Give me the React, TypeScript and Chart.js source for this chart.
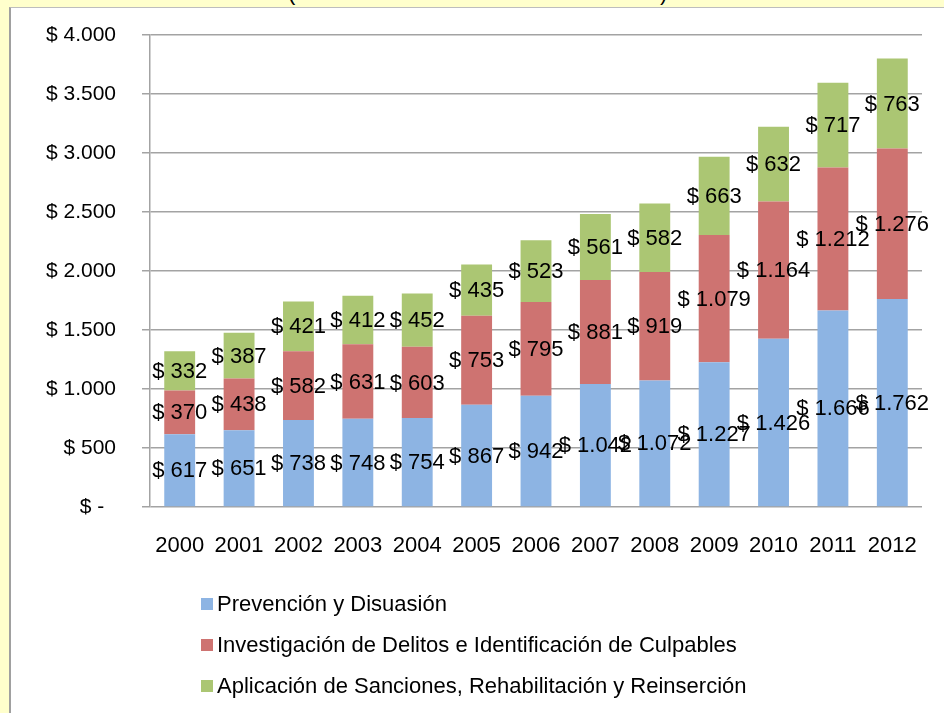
import React, { useEffect, useRef } from "react";
import { Chart, registerables } from "chart.js";

Chart.register(...registerables);

// ---- data ----
const YEARS = ["2000", "2001", "2002", "2003", "2004", "2005", "2006", "2007", "2008", "2009", "2010", "2011", "2012"];
const PREVENCION = [617, 651, 738, 748, 754, 867, 942, 1042, 1072, 1227, 1426, 1666, 1762];
const INVESTIGACION = [370, 438, 582, 631, 603, 753, 795, 881, 919, 1079, 1164, 1212, 1276];
const APLICACION = [332, 387, 421, 412, 452, 435, 523, 561, 582, 663, 632, 717, 763];
const SERIES_NAMES = [
  "Prevención y Disuasión",
  "Investigación de Delitos e Identificación de Culpables",
  "Aplicación de Sanciones, Rehabilitación y Reinserción",
];
const Y_MIN = 0;
const Y_MAX = 4000;
const Y_STEP = 500;

// ---- styles ----
const FONT = "'Liberation Sans', Arial, sans-serif";
const COLORS = ["#8DB4E3", "#CE7371", "#ABC673"];
const GRID = "#A3A3A3";

const fmt = (n: number) => String(n).replace(/\B(?=(\d{3})+(?!\d))/g, ".");

const valueLabels = {
  id: "valueLabels",
  afterDatasetsDraw(chart: any) {
    const ctx = chart.ctx;
    ctx.save();
    ctx.font = `22px ${FONT}`;
    ctx.fillStyle = "#000";
    ctx.textAlign = "center";
    ctx.textBaseline = "middle";
    chart.data.datasets.forEach((ds: any, di: number) => {
      const meta = chart.getDatasetMeta(di);
      meta.data.forEach((bar: any, i: number) => {
        const { x, y, base } = bar.getProps(["x", "y", "base"], true);
        ctx.fillText("$ " + fmt(ds.data[i]), x, (y + base) / 2 + 1);
      });
    });
    ctx.restore();
  },
};

const stackedLegend = {
  id: "stackedLegend",
  afterDraw(chart: any) {
    const ctx = chart.ctx;
    const area = chart.chartArea;
    const x0 = area.left + 51;
    const y0 = area.bottom + 97;
    const gap = 41;
    ctx.save();
    ctx.font = `22px ${FONT}`;
    ctx.textAlign = "left";
    ctx.textBaseline = "middle";
    chart.data.datasets.forEach((ds: any, i: number) => {
      const cy = y0 + i * gap;
      ctx.fillStyle = ds.backgroundColor;
      ctx.fillRect(x0, cy - 6, 12, 12);
      ctx.fillStyle = "#000";
      ctx.fillText(ds.label, x0 + 16, cy + 1);
    });
    ctx.restore();
  },
};

function BarChart() {
  const ref = useRef<HTMLCanvasElement | null>(null);
  useEffect(() => {
    if (!ref.current) return;
    const chart = new Chart(ref.current, {
      type: "bar",
      data: {
        labels: YEARS,
        datasets: [PREVENCION, INVESTIGACION, APLICACION].map((d, i) => ({
          label: SERIES_NAMES[i],
          data: d,
          backgroundColor: COLORS[i],
          borderWidth: 0,
          categoryPercentage: 1,
          barPercentage: 0.52,
        })),
      },
      options: {
        responsive: false,
        animation: false,
        devicePixelRatio: 1,
        layout: { padding: { top: 27, right: 22, bottom: 156, left: 0 } },
        plugins: {
          legend: { display: false },
          tooltip: { enabled: false },
          title: { display: false },
        },
        scales: {
          x: {
            stacked: true,
            grid: { display: false, drawTicks: false },
            border: { display: false },
            ticks: { color: "#000", font: { family: FONT, size: 22 }, padding: 26 },
            afterFit: (s: any) => {
              s.height = 50;
            },
          },
          y: {
            stacked: true,
            min: Y_MIN,
            max: Y_MAX,
            grid: { color: GRID, lineWidth: 1.5, tickLength: 8, drawTicks: true },
            border: { display: true, color: GRID, width: 1.5 },
            ticks: {
              stepSize: Y_STEP,
              color: "#000",
              font: { family: FONT, size: 21 },
              padding: 26,
              callback: (v: any) => (Number(v) === 0 ? "$ -  " : "$ " + fmt(Number(v))),
            },
            afterFit: (s: any) => {
              s.width = 139;
              s.paddingTop = 0;
              s.paddingBottom = 0;
            },
          },
        },
      },
      plugins: [valueLabels, stackedLegend],
    });
    return () => chart.destroy();
  }, []);
  return <canvas ref={ref} width={933} height={705} style={{ display: "block", width: 933, height: 705 }} />;
}

export default function App() {
  return (
    <div
      style={{
        position: "fixed",
        left: 0,
        top: 0,
        width: 944,
        height: 713,
        background: "#FFFFCC",
        overflow: "hidden",
        fontFamily: FONT,
      }}
    >
      <div style={{ position: "absolute", top: -18, left: 288, fontSize: 22, lineHeight: "22px", color: "#000" }}>(</div>
      <div style={{ position: "absolute", top: -18, left: 660, fontSize: 22, lineHeight: "22px", color: "#000" }}>)</div>
      <div
        style={{
          position: "absolute",
          left: 9,
          top: 7,
          right: 0,
          bottom: 0,
          background: "#fff",
          borderLeft: "2px solid #A0A0A0",
          borderTop: "1px solid #BDBDBD",
        }}
      >
        <BarChart />
      </div>
    </div>
  );
}
